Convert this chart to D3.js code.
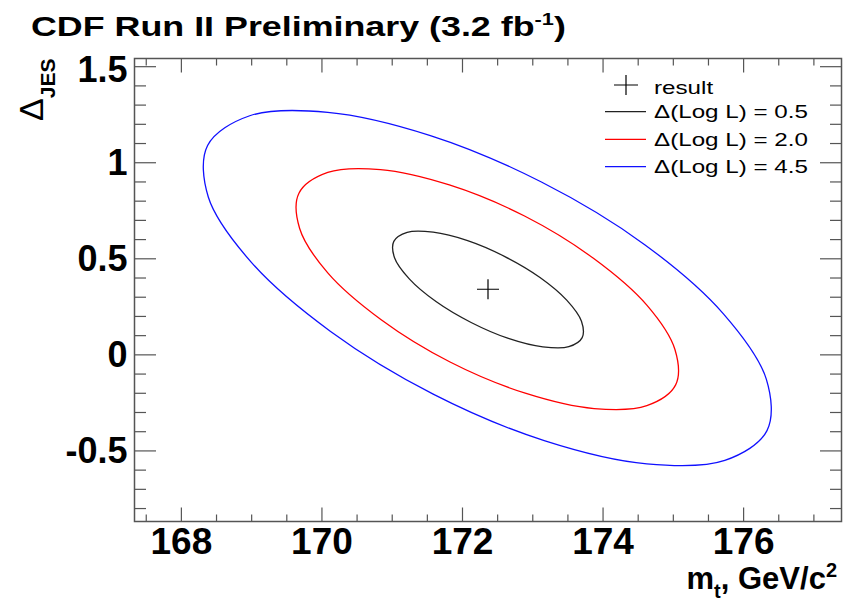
<!DOCTYPE html>
<html>
<head>
<meta charset="utf-8">
<script src="https://cdn.jsdelivr.net/npm/d3@7"></script>
<style>
  body { margin: 0; background: #fff; }
  svg { display: block; font-family: "Liberation Sans", Arial, sans-serif; }
</style>
</head>
<body>
<svg width="847" height="603"></svg>
<script>
"use strict"

// --- data ---
const xMajorTicks = [168, 170, 172, 174, 176]
const xMinorTicks = [167.5, 168.5, 169, 169.5, 170.5, 171, 171.5, 172.5, 173, 173.5, 174.5, 175, 175.5, 176.5, 177]
const yMajorTicks = [-0.5, 0, 0.5, 1, 1.5]
const yMinorTicks = [-0.8, -0.7, -0.6, -0.4, -0.3, -0.2, -0.1, 0.1, 0.2, 0.3, 0.4, 0.6, 0.7, 0.8, 0.9, 1.1, 1.2, 1.3, 1.4]

const resultPoint = [172.37, 0.339]

// contour of Delta(Log L) = 0.5 (mt, JES)
const contour05 = [
    [173.71, 0.087], [173.52, 0.040], [173.15, 0.039], [172.66, 0.083],
    [172.13, 0.166], [171.63, 0.275], [171.25, 0.393], [171.04, 0.503],
    [171.03, 0.588], [171.22, 0.635], [171.59, 0.636], [172.08, 0.592],
    [172.61, 0.509], [173.11, 0.400], [173.49, 0.282], [173.70, 0.172]
]
// contour of Delta(Log L) = 2.0
const contour20 = [
    [175.04, -0.159], [174.63, -0.267], [173.88, -0.282], [172.90, -0.202],
    [171.83, -0.040], [170.85, 0.180], [170.09, 0.424], [169.69, 0.655],
    [169.68, 0.839], [170.09, 0.947], [170.84, 0.962], [171.82, 0.882],
    [172.89, 0.720], [173.87, 0.500], [174.63, 0.256], [175.03, 0.025]
]
// contour of Delta(Log L) = 4.5
const contour45 = [
    [176.34, -0.397], [175.74, -0.552], [174.63, -0.570], [173.17, -0.449],
    [171.59, -0.207], [170.13, 0.119], [169.00, 0.480], [168.39, 0.819],
    [168.38, 1.087], [168.98, 1.242], [170.09, 1.260], [171.55, 1.139],
    [173.13, 0.897], [174.60, 0.571], [175.72, 0.211], [176.33, -0.129]
]

const contourLabels = ["Δ(Log L) = 0.5", "Δ(Log L) = 2.0", "Δ(Log L) = 4.5"]
const contourColors = ["#222", "#ff0000", "#1010ff"]

// --- layout ---
const svg = d3.select("svg")
const area = { left: 134.5, right: 841.5, top: 58.5, bottom: 521.5 }
const frameColor = "#555"

const scaleX = d3.scaleLinear().domain([167.34, 177.4]).range([area.left, area.right])
const scaleY = d3.scaleLinear().domain([-0.87, 1.54]).range([area.bottom, area.top])

// title
const title = svg.append("text")
    .attr("transform", "translate(31,36) scale(1.28,1)")
    .style("font-size", "28px")
    .style("font-weight", "bold")
title.append("tspan").text("CDF Run II Preliminary (3.2 fb")
title.append("tspan").attr("dy", -11).style("font-size", "17px").text("-1")
title.append("tspan").attr("dy", 11).text(")")

// contours
const lineF = d3.line()
    .x(d => scaleX(d[0]))
    .y(d => scaleY(d[1]))
    .curve(d3.curveCatmullRomClosed.alpha(0.5))

const contours = [contour05, contour20, contour45]
contours.forEach((c, i) => {
    svg.append("path")
        .datum(c)
        .attr("d", lineF)
        .style("fill", "none")
        .style("stroke", contourColors[i])
        .style("stroke-width", 1.3)
})

// result marker
function cross(g, cx, cy, hw, hh) {
    g.append("path")
        .attr("d", `M${cx - hw},${cy}H${cx + hw}M${cx},${cy - hh}V${cy + hh}`)
        .style("stroke", "#000")
        .style("stroke-width", 1.2)
        .style("fill", "none")
}
cross(svg, scaleX(resultPoint[0]), scaleY(resultPoint[1]), 11, 10)

// axes: ticks inward on all four sides
function styleAxis(g) {
    g.select(".domain").remove()
    g.selectAll("line").style("stroke", frameColor).style("stroke-width", 1.2)
}

svg.append("g")
    .attr("transform", `translate(${area.left},0)`)
    .call(d3.axisLeft(scaleY).tickValues(yMajorTicks).tickSize(-21.5).tickPadding(7)
        .tickFormat(d => String(d)))
    .call(styleAxis)
    .selectAll("text")
    .attr("dy", d => d == 1.5 ? "0.42em" : "0.34em")
    .style("font-family", "Liberation Sans, Arial, sans-serif")
    .style("font-size", "36px")
    .style("font-weight", "bold")
    .style("fill", "#000")

svg.append("g")
    .attr("transform", `translate(${area.left},0)`)
    .call(d3.axisLeft(scaleY).tickValues(yMinorTicks).tickSize(-11.5).tickFormat(""))
    .call(styleAxis)

svg.append("g")
    .attr("transform", `translate(${area.right},0)`)
    .call(d3.axisRight(scaleY).tickValues(yMajorTicks).tickSize(-21.5).tickFormat(""))
    .call(styleAxis)

svg.append("g")
    .attr("transform", `translate(${area.right},0)`)
    .call(d3.axisRight(scaleY).tickValues(yMinorTicks).tickSize(-11.5).tickFormat(""))
    .call(styleAxis)

svg.append("g")
    .attr("transform", `translate(0,${area.bottom})`)
    .call(d3.axisBottom(scaleX).tickValues(xMajorTicks).tickSize(-14).tickPadding(6)
        .tickFormat(d => String(d)))
    .call(styleAxis)
    .selectAll("text")
    .style("font-family", "Liberation Sans, Arial, sans-serif")
    .style("font-size", "37px")
    .style("font-weight", "bold")
    .style("fill", "#000")

svg.append("g")
    .attr("transform", `translate(0,${area.bottom})`)
    .call(d3.axisBottom(scaleX).tickValues(xMinorTicks).tickSize(-7).tickFormat(""))
    .call(styleAxis)

svg.append("g")
    .attr("transform", `translate(0,${area.top})`)
    .call(d3.axisTop(scaleX).tickValues(xMajorTicks).tickSize(-14).tickFormat(""))
    .call(styleAxis)

svg.append("g")
    .attr("transform", `translate(0,${area.top})`)
    .call(d3.axisTop(scaleX).tickValues(xMinorTicks).tickSize(-7).tickFormat(""))
    .call(styleAxis)

// frame
svg.append("rect")
    .attr("x", area.left)
    .attr("y", area.top)
    .attr("width", area.right - area.left)
    .attr("height", area.bottom - area.top)
    .style("fill", "none")
    .style("stroke", frameColor)
    .style("stroke-width", 1.5)

// axis titles
const xTitle = svg.append("text")
    .attr("x", 837)
    .attr("y", 589)
    .style("text-anchor", "end")
    .style("font-size", "31px")
    .style("font-weight", "bold")
xTitle.append("tspan").text("m")
xTitle.append("tspan").attr("dy", 9).style("font-size", "20px").text("t")
xTitle.append("tspan").attr("dy", -9).text(", GeV/c")
xTitle.append("tspan").attr("dy", -12).style("font-size", "20px").text("2")

const yTitle = svg.append("text")
    .attr("transform", "translate(43,121) rotate(-90)")
yTitle.append("tspan").style("font-size", "34px").text("Δ")
yTitle.append("tspan").attr("dy", 12).style("font-size", "21px").style("font-weight", "bold").text("JES")

// legend
const legend = svg.append("g").attr("class", "legend-container")
const legendRows = [85, 111.7, 139.3, 166.7]
cross(legend, 626, legendRows[0], 12, 10)
legend.append("text")
    .attr("transform", `translate(654,${legendRows[0] + 9.3}) scale(1.3,1)`)
    .style("font-size", "18.6px")
    .text("result")

contourLabels.forEach((label, i) => {
    const yy = legendRows[i + 1]
    legend.append("line")
        .attr("x1", 605).attr("x2", 646)
        .attr("y1", yy).attr("y2", yy)
        .style("stroke", contourColors[i])
        .style("stroke-width", 1.3)
    legend.append("text")
        .attr("transform", `translate(654,${yy + 6.6}) scale(1.3,1)`)
        .style("font-size", "18.6px")
        .text(label)
})
</script>
</body>
</html>
